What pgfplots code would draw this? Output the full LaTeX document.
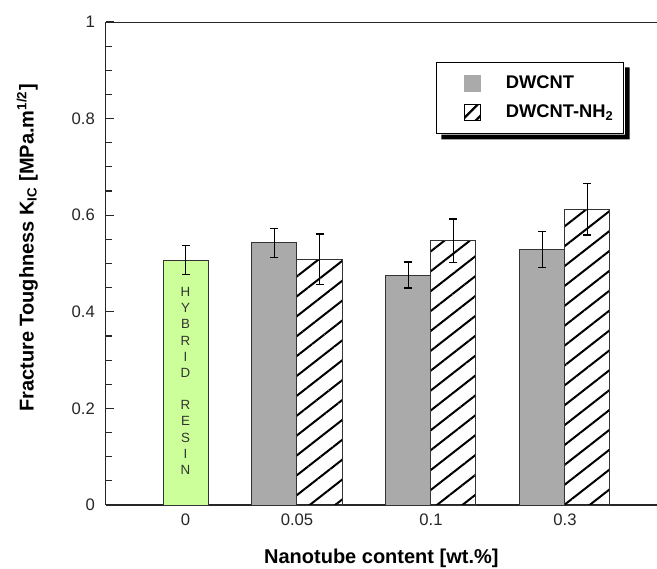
\documentclass[border=0pt]{standalone}
\usepackage{fontspec}
\setmainfont{Liberation Sans}
\usepackage{pgfplots}
\pgfplotsset{compat=1.18}
\usetikzlibrary{patterns.meta}
\definecolor{hybgreen}{RGB}{204,255,153}
\definecolor{dwgray}{RGB}{170,170,170}
\begin{document}
\begin{tikzpicture}
\begin{axis}[
  scale only axis, width=330.8pt, height=289.8pt,
  xmin=-0.428, xmax=3.687, ymin=0, ymax=1,
  axis x line=bottom, axis y line=left,
  axis line style={-, line width=0.8pt, black!85},
  tick align=inside,
  ytick={0,0.2,0.4,0.6,0.8,1},
  yticklabels={0,0.2,0.4,0.6,0.8,1},
  minor y tick num=3,
  major tick length=4.8pt, minor tick length=3.6pt,
  tick style={line width=0.7pt, black!85},
  xtick={0.168,1,2,3},
  xticklabels={0,0.05,0.1,0.3},
  major x tick style={draw=none},
  ticklabel style={font=\fontsize{10}{12}\selectfont, text=black!85},
  yticklabel style={xshift=-3pt},
  xticklabel style={yshift=-2pt},
  xlabel={Nanotube content [wt.\%]},
  ylabel={Fracture Toughness K\textsubscript{IC} [MPa.m\textsuperscript{1/2}]},
  xlabel style={at={(axis description cs:0.5,-0.110)}, anchor=center, font=\bfseries\fontsize{12}{14}\selectfont},
  ylabel style={at={(axis description cs:-0.142,0.532)}, anchor=center, font=\bfseries\fontsize{12}{14}\selectfont},
  legend style={at={(rel axis cs:0.599,0.917)}, anchor=north west, draw=black, line width=0.8pt, fill=white,
    font=\bfseries\fontsize{11}{13}\selectfont, inner xsep=4pt, inner ysep=6pt, row sep=4pt,
    append after command={\pgfextra{\fill[black, draw=none]
      ([xshift=3.2pt,yshift=-0.4pt]\tikzlastnode.south west) -- ([xshift=3.2pt,yshift=-3.2pt]\tikzlastnode.south west)
      -- ([xshift=3.2pt,yshift=-3.2pt]\tikzlastnode.south east) -- ([xshift=3.2pt,yshift=-3.2pt]\tikzlastnode.north east)
      -- ([xshift=0.4pt,yshift=-3.2pt]\tikzlastnode.north east) -- ([xshift=0.4pt,yshift=-0.4pt]\tikzlastnode.south east) -- cycle;}}},
  legend cell align=left,
  error bars/y dir=both, error bars/y explicit,
  error bars/error bar style={line width=0.8pt, black},
  error bars/error mark options={rotate=90, mark size=2.4pt, line width=0.8pt, black},
]
\addplot[ybar, bar width=0.336, bar shift=0pt, fill=hybgreen, draw=black!80, line width=0.6pt, forget plot,
  error bars/.cd, y dir=both, y explicit]
  coordinates {(0.168,0.507) +- (0,0.030)};
\addplot[ybar, bar width=0.336, bar shift=0pt, fill=dwgray, draw=black!80, line width=0.6pt,
  legend image code/.code={\path[draw=none,fill=none] (-13pt,-5pt) rectangle (22.6pt,5pt); \fill[dwgray] (0pt,-4.8pt) rectangle (9.6pt,4.8pt);},
  error bars/.cd, y dir=both, y explicit]
  coordinates {(0.832,0.543) +- (0,0.030) (1.832,0.476) +- (0,0.027) (2.832,0.529) +- (0,0.037)};
\addlegendentry{DWCNT}
\addplot[ybar, bar width=0.336, bar shift=0pt, pattern={Lines[angle=38,distance=9.4pt,line width=1.2pt]}, draw=black!80, line width=0.6pt,
  legend image code/.code={\path[draw=none,fill=none] (-13pt,-5pt) rectangle (22.6pt,5pt); \draw[black, line width=0.6pt, pattern={Lines[angle=45,distance=6pt,line width=1.4pt]}] (0pt,-4.8pt) rectangle (9.6pt,4.8pt);},
  error bars/.cd, y dir=both, y explicit]
  coordinates {(1.168,0.509) +- (0,0.052) (2.168,0.547) +- (0,0.045) (3.168,0.612) +- (0,0.053)};
\addlegendentry{DWCNT-NH\textsubscript{2}}
\draw[line width=0.8pt, black!85] (rel axis cs:0,1) -- (rel axis cs:1,1);
\node[font=\fontsize{8}{9.7}\selectfont, align=center, text=black!80] at (axis cs:0.168,0.257)
  {H\\Y\\B\\R\\I\\D\\ \\R\\E\\S\\I\\N};
\coordinate (BL) at (rel axis cs:0,0);
\coordinate (TR) at (rel axis cs:1,1);
\end{axis}
\pgfresetboundingbox
\path ([shift={(-63.4pt,-37.8pt)}]BL) rectangle ([yshift=13.2pt]TR);
\end{tikzpicture}
\end{document}
